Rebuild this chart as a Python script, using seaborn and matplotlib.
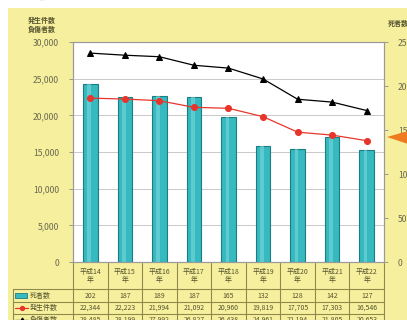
import numpy as np
import pandas as pd
import matplotlib
matplotlib.use("Agg")
import matplotlib.pyplot as plt
import matplotlib.transforms as mtransforms
from matplotlib.patches import Rectangle, Polygon, Circle
from matplotlib.lines import Line2D
import seaborn as sns

# --- data -------------------------------------------------------------
years = ["平成14\n年", "平成15\n年", "平成16\n年", "平成17\n年", "平成18\n年",
         "平成19\n年", "平成20\n年", "平成21\n年", "平成22\n年"]
deaths = [202, 187, 189, 187, 165, 132, 128, 142, 127]               # 死者数
accidents = [22344, 22223, 21994, 21092, 20960, 19819, 17705, 17303, 16546]  # 発生件数
injured = [28485, 28199, 27992, 26827, 26438, 24961, 22194, 21805, 20653]    # 負傷者数
left_ticks = [0, 5000, 10000, 15000, 20000, 25000, 30000]
right_ticks = [0, 50, 100, 150, 200, 250]

# --- style ------------------------------------------------------------
sns.set_theme(style="white")
plt.rcParams["font.family"] = ["Noto Sans CJK JP", "DejaVu Sans"]

W, H = 407, 320
BG = "#f6f09e"
TXT = "#55532f"
BORDER = "#8e8a4c"
BAR = "#36b9bf"
BAR_EDGE = "#1c7c82"
RED = "#e8352b"

fig = plt.figure(figsize=(W / 100, H / 100), dpi=100)
fig.patch.set_facecolor("white")

def fx(px):
    return px / W

def fy(py):
    return 1 - py / H

# yellow panel behind everything
fig.patches.append(Rectangle((fx(8), 0), 1 - fx(8), fy(8), transform=fig.transFigure,
                             facecolor=BG, edgecolor="none", zorder=-10))
# small orange ornament at the top-left corner
fig.patches.append(Circle((fx(42), fy(-6)), 8 / W, transform=fig.transFigure,
                          facecolor="#e9b77a", edgecolor="none", zorder=-9))

x0, x1, yt, yb = 73, 384, 42, 262
ax = fig.add_axes([fx(x0), fy(yb), fx(x1) - fx(x0), (yb - yt) / H])
ax.set_facecolor("white")
ax2 = ax.twinx()

# bars: deaths on the right-hand scale
sns.barplot(x=list(range(len(years))), y=deaths, ax=ax, color=BAR, width=0.42,
            saturation=1, edgecolor=BAR_EDGE, linewidth=0.8, zorder=3)
for p in ax.patches:
    bx, bw, bh = p.get_x(), p.get_width(), p.get_height()
    ax.add_patch(Rectangle((bx + bw * 0.3, 0), bw * 0.25, bh, facecolor="#7fdadd",
                           edgecolor="none", alpha=0.55, zorder=4))
ax.set_xlim(-0.5, len(years) - 0.5)
ax.set_ylim(0, 250)
ax.yaxis.tick_right()
ax.set_yticks(right_ticks)
ax.set_yticklabels([str(v) for v in right_ticks])

# horizontal grid follows the left-hand (count) scale
for v in left_ticks[1:-1]:
    ax.axhline(v * 250 / 30000, color="#c9c9c9", lw=0.7, zorder=1)

# lines: counts on the left-hand scale
idx = np.arange(len(years))
df = pd.DataFrame({"idx": idx, "acc": accidents, "inj": injured})
sns.lineplot(data=df, x="idx", y="inj", ax=ax2, color="black", lw=0.9,
             marker="^", markersize=4.5, markeredgecolor="black", zorder=5)
sns.lineplot(data=df, x="idx", y="acc", ax=ax2, color=RED, lw=0.9,
             marker="o", markersize=4.3, markeredgecolor=RED, zorder=5)
ax2.set_ylim(0, 30000)
ax2.yaxis.tick_left()
ax2.set_yticks(left_ticks)
ax2.set_yticklabels([f"{v:,}" for v in left_ticks])
ax2.set_xlim(-0.5, len(years) - 0.5)

for a in (ax, ax2):
    a.set_xlabel("")
    a.set_ylabel("")
    a.set_xticks([])
    a.tick_params(axis="y", length=3, width=0.6, color="#8c8c8c",
                  labelsize=6.2, labelcolor="#6a6850", pad=7)
    for s in a.spines.values():
        s.set_color("#9a9a9a")
        s.set_linewidth(0.8)

# axis titles
fig.text(fx(28), fy(20), "発生件数", fontsize=5.0, color=TXT, va="center", ha="left",
         fontweight="bold")
fig.text(fx(28), fy(29), "負傷者数", fontsize=5.0, color=TXT, va="center", ha="left",
         fontweight="bold")
fig.text(fx(388), fy(23), "死者数", fontsize=5.0, color=TXT, va="center", ha="left",
         fontweight="bold")

# orange pointer at the right edge
fig.patches.append(Polygon([(fx(387), fy(137)), (fx(408), fy(131)), (fx(408), fy(144))],
                           closed=True, transform=fig.transFigure,
                           facecolor="#f07a1e", edgecolor="none", zorder=10))

# --- data table under the plot -----------------------------------------
tr = mtransforms.blended_transform_factory(ax.transData, fig.transFigure)
rows = [263, 289, 302, 314, 326]
tl = 13
# horizontal rules
for r in rows[1:]:
    fig.lines.append(Line2D([fx(tl), fx(x1)], [fy(r), fy(r)], transform=fig.transFigure,
                            color=BORDER, lw=0.8))
# vertical rules
for b in np.arange(len(years) + 1) - 0.5:
    ax.plot([b, b], [fy(rows[0]), fy(rows[-1])], transform=tr, color=BORDER, lw=0.8,
            clip_on=False)
fig.lines.append(Line2D([fx(tl), fx(tl)], [fy(rows[1]), fy(rows[-1])],
                        transform=fig.transFigure, color=BORDER, lw=0.8))

tfs = 5.0
for i, lab in enumerate(years):
    ax.text(i, fy((rows[0] + rows[1]) / 2), lab, transform=tr, ha="center", va="center",
            fontsize=tfs, color=TXT, linespacing=1.15)
    ax.text(i, fy((rows[1] + rows[2]) / 2), f"{deaths[i]}", transform=tr,
            ha="center", va="center", fontsize=tfs, color=TXT)
    ax.text(i, fy((rows[2] + rows[3]) / 2), f"{accidents[i]:,}", transform=tr,
            ha="center", va="center", fontsize=tfs, color=TXT)
    ax.text(i, fy((rows[3] + rows[4]) / 2), f"{injured[i]:,}", transform=tr,
            ha="center", va="center", fontsize=tfs, color=TXT)

# legend keys in the first column
r1 = (rows[1] + rows[2]) / 2
fig.patches.append(Rectangle((fx(15), fy(r1 + 2.5)), 12 / W, 5 / H,
                             transform=fig.transFigure, facecolor=BAR,
                             edgecolor=BAR_EDGE, lw=0.6))
r2 = (rows[2] + rows[3]) / 2
fig.lines.append(Line2D([fx(15), fx(28)], [fy(r2), fy(r2)], transform=fig.transFigure,
                        color=RED, lw=0.9))
fig.lines.append(Line2D([fx(21.5)], [fy(r2)], transform=fig.transFigure,
                        color=RED, marker="o", markersize=2.8, markeredgecolor=RED))
r3 = (rows[3] + rows[4]) / 2
fig.lines.append(Line2D([fx(15), fx(28)], [fy(r3), fy(r3)], transform=fig.transFigure,
                        color="black", lw=0.9))
fig.lines.append(Line2D([fx(21.5)], [fy(r3)], transform=fig.transFigure,
                        color="black", marker="^", markersize=3.5))
for r, lab in [(r1, "死者数"), (r2, "発生件数"), (r3, "負傷者数")]:
    fig.text(fx(30), fy(r), lab, fontsize=tfs, color=TXT, va="center", ha="left")

fig.savefig("out.png", dpi=100, facecolor=fig.get_facecolor())
